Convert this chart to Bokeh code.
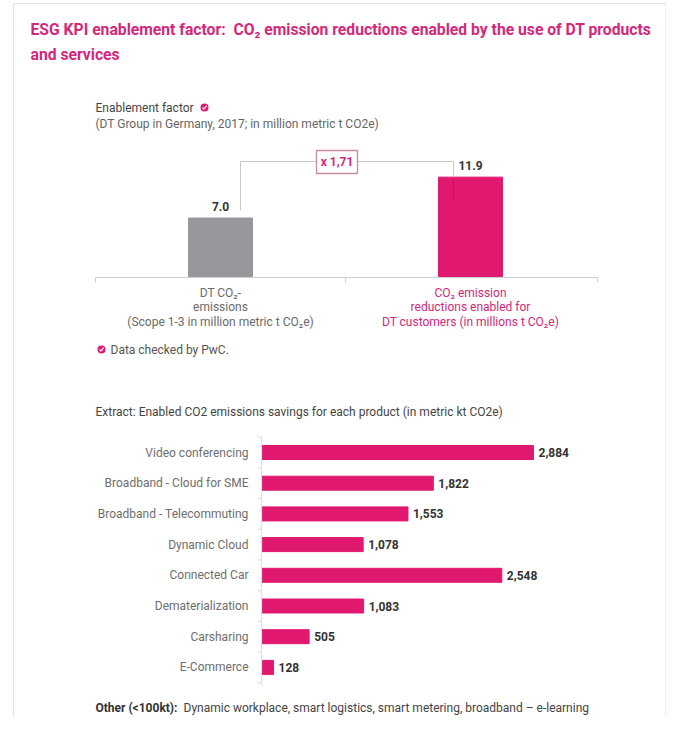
from bokeh.plotting import figure
from bokeh.models import Range1d, ColumnDataSource
from bokeh.embed import file_html
from bokeh.resources import INLINE
from bokeh.core.properties import value

# ---------------- data ----------------
title_lines = ["ESG KPI enablement factor:\u00a0 CO₂ emission reductions enabled by the use of DT products",
               "and services"]
top_title = "Enablement factor"
top_subtitle = "(DT Group in Germany, 2017; in million metric t CO2e)"
top_categories = ["DT CO₂-emissions", "CO₂ emission reductions enabled for DT customers"]
top_category_lines = [["DT CO₂-", "emissions", "(Scope 1-3 in million metric t CO₂e)"],
                      ["CO₂ emission", "reductions enabled for", "DT customers (in millions t CO₂e)"]]
top_values = [7.0, 11.9]
factor_label = "x 1,71"
legend_text = "Data checked by PwC."

bottom_title = "Extract: Enabled CO2 emissions savings for each product (in metric kt CO2e)"
products = ["Video conferencing", "Broadband - Cloud for SME", "Broadband - Telecommuting",
            "Dynamic Cloud", "Connected Car", "Dematerialization", "Carsharing", "E-Commerce"]
savings_kt = [2884, 1822, 1553, 1078, 2548, 1083, 505, 128]
footer_bold = "Other (<100kt):"
footer_text = "Dynamic workplace, smart logistics, smart metering, broadband – e-learning"

# ---------------- style ----------------
FONT = value("Roboto")
MAGENTA = "#e0196f"
TITLE_PINK = "#d3287b"
GRAY_BAR = "#98989c"
FS = "12px"
W, H = 666, 717
X0, Y0 = 0, 0  # picture offset of the canvas

p = figure(width=W, height=H, x_range=Range1d(X0, X0 + W), y_range=Range1d(Y0 + H, Y0),
           output_backend="svg", toolbar_location=None, min_border=0,
           x_axis_location=None, y_axis_location=None)
p.grid.visible = False
p.outline_line_color = None
p.background_fill_color = "white"
p.border_fill_color = "white"

# frame border (light box)
p.segment(x0=[13, 665.5, 13], y0=[3, 3, 3], x1=[665.5, 665.5, 13], y1=[3, 717, 717],
          line_color="#e4e4e4", line_width=1.2)


def txt(x, y, t, size=FS, color="#555555", align="left", style="normal", font=FONT, baseline="middle"):
    p.text(x=[x], y=[y], text=[t], text_font=font, text_font_size=size, text_color=color,
           text_align=align, text_baseline=baseline, text_font_style=style)


def check_dot(x, y):
    p.scatter(x=[x], y=[y], size=8, marker="circle", fill_color=MAGENTA, line_color=None)
    p.line(x=[x - 2, x - 0.6, x + 2.2], y=[y, y + 1.6, y - 1.8], line_color="white", line_width=1.2)


# title
txt(30, 29, title_lines[0], size="15.7px", color=TITLE_PINK, style="bold")
txt(30, 54, title_lines[1], size="15.7px", color=TITLE_PINK, style="bold")

# ---------------- top chart ----------------
txt(95, 107, top_title, color="#444444")
check_dot(204, 107)
txt(95, 123, top_subtitle, color="#666666")

base_y, px_per_unit = 276, 8.35
p.extra_y_ranges = {"topv": Range1d((base_y - (Y0 + H)) / px_per_unit, (base_y - Y0) / px_per_unit)}
cat_x0, cat_step = 220, 250
p.extra_x_ranges = {"topc": Range1d((X0 - cat_x0) / cat_step, (X0 + W - cat_x0) / cat_step)}
top_idx = list(range(len(top_values)))
top_src = ColumnDataSource(dict(x=top_idx, top=top_values, color=[GRAY_BAR, MAGENTA],
                                label=[f"{v:.1f}" for v in top_values]))
p.vbar(x="x", top="top", bottom=0, width=64 / cat_step, color="color", source=top_src,
       x_range_name="topc", y_range_name="topv")

# baseline axis with dividers
p.segment(x0=[95], y0=[277], x1=[597], y1=[277], line_color="#cfcfcf", line_width=1)
p.segment(x0=[95, 345, 597], y0=[277, 277, 277], x1=[95, 345, 597], y1=[282, 282, 282],
          line_color="#cfcfcf", line_width=1)

# bracket showing the factor
p.segment(x0=[240, 240, 453], y0=[161, 161, 161], x1=[453, 240, 453], y1=[161, 210, 177],
          line_color="#c8c8c8", line_width=1)
p.segment(x0=[453], y0=[177], x1=[453], y1=[197], line_color="#b5175c", line_width=1)
p.quad(left=[316], right=[357], top=[150], bottom=[173], fill_color="white",
       line_color="#c98aa8", line_width=1.3)
txt(336.5, 161.5, factor_label, color=TITLE_PINK, align="center", style="bold")

# value labels
p.text(x="x", y="top", text="label", x_offset=0, y_offset=-12, source=top_src,
       text_font=FONT, text_font_size=FS, text_color="#333333", text_font_style="bold",
       text_align="center", text_baseline="middle", x_range_name="topc", y_range_name="topv")

# category labels
for i, lines in enumerate(top_category_lines):
    col = "#6a6a6a" if i == 0 else TITLE_PINK
    for j, ln in enumerate(lines):
        p.text(x=[i], y=[0], text=[ln], y_offset=[16 + j * 14.5], text_font=FONT,
               text_font_size=FS, text_color=col, text_align="center", text_baseline="middle",
               x_range_name="topc", y_range_name="topv")

check_dot(101, 349)
txt(110, 349, legend_text, color="#555555")

# ---------------- bottom chart ----------------
txt(95, 411, bottom_title, color="#444444")

bar_x0, px_per_kt = 261, 272 / 2884
row_y0, row_step = 452, 30.7
p.extra_x_ranges["kt"] = Range1d((X0 - bar_x0) / px_per_kt, (X0 + W - bar_x0) / px_per_kt)
p.extra_y_ranges["rows"] = Range1d((Y0 + H - row_y0) / row_step, (Y0 - row_y0) / row_step)
rows = list(range(len(products)))
bsrc = ColumnDataSource(dict(y=rows, right=savings_kt, name=products,
                             label=[f"{v:,}" for v in savings_kt]))
p.hbar(y="y", right="right", left=0, height=14 / row_step, color=MAGENTA, source=bsrc,
       x_range_name="kt", y_range_name="rows")
p.text(x="right", y="y", text="label", x_offset=5, source=bsrc, text_font=FONT,
       text_font_size=FS, text_color="#333333", text_font_style="bold",
       text_align="left", text_baseline="middle", x_range_name="kt", y_range_name="rows")
p.text(x=0, y="y", text="name", x_offset=-13, source=bsrc, text_font=FONT,
       text_font_size=FS, text_color="#6e6e6e", text_align="right", text_baseline="middle",
       x_range_name="kt", y_range_name="rows")

# category axis line with boundary ticks
bounds = [k - 0.5 for k in range(len(products) + 1)]
p.segment(x0=[0], y0=[-0.5], x1=[0], y1=[len(products) - 0.4], x_range_name="kt", y_range_name="rows",
          line_color="#dde2ea", line_width=1.2)
p.segment(x0=[0] * len(bounds), y0=bounds, x1=[-45] * len(bounds), y1=bounds,
          x_range_name="kt", y_range_name="rows", line_color="#dde2ea", line_width=1.2)

# footer
txt(95, 707, footer_bold, color="#333333", style="bold")
txt(183, 707, footer_text, color="#444444")

open("out.html", "w").write(file_html(p, INLINE))
